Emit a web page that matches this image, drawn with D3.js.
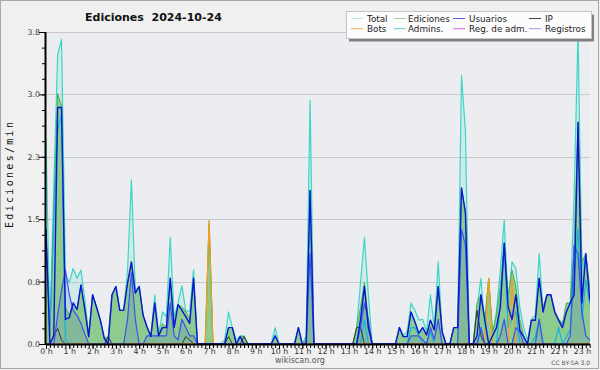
<!DOCTYPE html>
<html>
<head>
<meta charset="utf-8">
<script src="https://cdn.jsdelivr.net/npm/d3@7"></script>
<style>
body { margin: 0; background: #f0f0f0; }
text { font-family: "DejaVu Sans", sans-serif; }
</style>
</head>
<body>
<svg id="chart" width="600" height="370"></svg>
<script>
// edits per minute, one value every 10 minutes (6 per hour)
const total = [
  2.5, 0.17, 1.9, 3.52, 3.71, 0.85,
  0.75, 0.92, 0.8, 0.9, 0.55, 0.1,
  0.6, 0.45, 0.29, 0.07, 0.05, 0.6,
  0.7, 0.41, 0.41, 0.9, 2.0, 0.65,
  0.7, 0.35, 0.2, 0.1, 0.6, 0.11,
  0.39, 0.33, 1.3, 0.33, 0.5, 0.71,
  0.4, 0.4, 0.9, 0, 0, 0,
  1.5, 0, 0, 0, 0.05, 0.39,
  0.2, 0.05, 0.1, 0.1, 0, 0,
  0, 0, 0, 0, 0, 0.2,
  0, 0, 0, 0, 0, 0.2,
  0, 0.1, 2.97, 0, 0, 0,
  0, 0, 0, 0, 0, 0,
  0, 0, 0.2, 0.75, 1.3, 0.6,
  0, 0, 0, 0, 0, 0,
  0, 0.2, 0.1, 0.15, 0.5, 0.41,
  0.29, 0.3, 0.15, 0.6, 0.2, 1.0,
  0.15, 0, 0, 0.2, 0.2, 3.27,
  2.6, 0, 0, 0.45, 0.8, 0.2,
  0.8, 0.1, 0.4, 0.9, 1.51, 0.5,
  1.0, 0.92, 0.45, 0.2, 0.05, 0.3,
  0.35, 1.1, 0.4, 0.6, 0.6, 0.4,
  0.3, 0.25, 0.4, 0.5, 1.8, 3.8,
  0.9, 1.1, 0.55, 0.5, 0.4, 0.3
];
const ediciones = [
  1.4, 0.1, 1.6, 3.05, 2.9, 0.45,
  0.35, 0.5, 0.42, 0.72, 0.45, 0.1,
  0.6, 0.45, 0.29, 0.07, 0.09, 0.6,
  0.7, 0.41, 0.41, 0.74, 1.0, 0.62,
  0.7, 0.35, 0.21, 0.09, 0.5, 0.1,
  0.25, 0.2, 0.8, 0.25, 0.48, 0.45,
  0.4, 0.3, 0.8, 0, 0, 0,
  1.45, 0, 0, 0, 0, 0.2,
  0.2, 0, 0.09, 0.09, 0, 0,
  0, 0, 0, 0, 0, 0.1,
  0, 0, 0, 0, 0, 0.2,
  0, 0.05, 1.87, 0, 0, 0,
  0, 0, 0, 0, 0, 0,
  0, 0, 0.2, 0.45, 0.75, 0.3,
  0, 0, 0, 0, 0, 0,
  0, 0.2, 0.09, 0.09, 0.39, 0.27,
  0.13, 0.2, 0.11, 0.29, 0.17, 0.7,
  0.15, 0, 0, 0.2, 0.2, 1.9,
  1.6, 0, 0, 0.5, 0.6, 0.3,
  0.8, 0.15, 0.35, 0.7, 1.23, 0.6,
  0.9, 0.7, 0.3, 0.1, 0, 0.29,
  0.3, 0.8, 0.45, 0.6, 0.6, 0.4,
  0.3, 0.25, 0.5, 0.5, 1.2, 2.7,
  1.0, 1.1, 0.7, 0.5, 0.4, 0.3
];
const usuarios = [
  1.4, 0, 0.1, 2.88, 2.88, 0.3,
  0.32, 0.5, 0.42, 0.72, 0.42, 0.09,
  0.6, 0.45, 0.29, 0.07, 0, 0.6,
  0.7, 0.41, 0.41, 0.74, 1.0, 0.62,
  0.7, 0.35, 0.21, 0.09, 0.5, 0.1,
  0.2, 0.2, 0.8, 0.2, 0.48, 0.41,
  0.33, 0.25, 0.8, 0, 0, 0,
  0, 0, 0, 0, 0, 0.2,
  0.2, 0, 0.09, 0, 0, 0,
  0, 0, 0, 0, 0, 0.1,
  0, 0, 0, 0, 0, 0.2,
  0, 0, 1.87, 0, 0, 0,
  0, 0, 0, 0, 0, 0,
  0, 0, 0, 0.3, 0.7, 0.2,
  0, 0, 0, 0, 0, 0,
  0, 0.2, 0.09, 0.09, 0.39, 0.27,
  0.13, 0.2, 0.11, 0.29, 0.17, 0.7,
  0.15, 0, 0, 0.2, 0.2, 1.9,
  1.6, 0, 0, 0.1, 0.6, 0.29,
  0, 0.1, 0.2, 0.45, 1.23, 0.45,
  0.3, 0.6, 0.17, 0.09, 0, 0.29,
  0.29, 0.8, 0.39, 0.6, 0.6, 0.39,
  0.29, 0.2, 0.39, 0.5, 0.6, 2.7,
  0.5, 1.1, 0.55, 0.4, 0.3, 0.2
];
const registros = [
  0, 0, 0, 0.35, 0.65, 0.9,
  0.6, 0.41, 0.35, 0.25, 0.12, 0,
  0, 0, 0, 0, 0, 0,
  0, 0, 0, 0.3, 0.87, 0.3,
  0, 0, 0.1, 0.1, 0.1, 0.1,
  0.1, 0.1, 0.5, 0.1, 0.05, 0.3,
  0.2, 0.1, 0.1, 0, 0, 0,
  0, 0, 0, 0, 0, 0,
  0, 0, 0, 0, 0, 0,
  0, 0, 0, 0, 0, 0,
  0, 0, 0, 0, 0, 0,
  0, 0, 1.1, 0, 0, 0,
  0, 0, 0, 0, 0, 0,
  0, 0, 0, 0.2, 0.5, 0.3,
  0, 0, 0, 0, 0, 0,
  0, 0, 0, 0, 0.1, 0.1,
  0.1, 0.05, 0, 0.2, 0.05, 0.3,
  0, 0, 0, 0, 0, 1.4,
  1.2, 0, 0, 0, 0.2, 0,
  0, 0, 0, 0.1, 0.3, 0,
  0, 0.2, 0.15, 0, 0, 0,
  0, 0.3, 0, 0, 0, 0,
  0, 0, 0, 0.1, 1.2, 1.1,
  0.4, 0.1, 0.05, 0, 0, 0
];
const admins = [
  1.3, 0.2, 1.5, 2.6, 2.8, 0.05,
  0, 0, 0, 0, 0, 0,
  0, 0, 0, 0, 0, 0,
  0, 0, 0, 0, 0, 0,
  0, 0, 0, 0, 0, 0,
  0, 0, 0, 0, 0, 0,
  0, 0, 0, 0, 0, 0,
  0, 0, 0, 0, 0, 0,
  0, 0, 0, 0, 0, 0,
  0, 0, 0, 0, 0, 0,
  0, 0, 0, 0, 0, 0,
  0, 0, 0, 0, 0, 0,
  0, 0, 0, 0, 0, 0,
  0, 0, 0, 0, 0.3, 0,
  0, 0, 0, 0, 0, 0,
  0, 0, 0, 0, 0.2, 0.2,
  0.1, 0, 0, 0.15, 0, 0,
  0, 0, 0, 0, 0, 0,
  0, 0, 0, 0, 0.2, 0,
  0, 0, 0, 0.5, 1.2, 0.2,
  0.3, 0.4, 0, 0, 0, 0,
  0.09, 0.3, 0, 0, 0, 0,
  0.2, 0, 0.09, 0.17, 0.8, 1.4,
  0.3, 0.78, 0.5, 0.3, 0.2, 0.1
];
const ip = [
  0, 0, 0.1, 0.19, 0.05, 0,
  0, 0, 0, 0, 0, 0,
  0, 0, 0, 0, 0.09, 0,
  0, 0, 0, 0, 0, 0,
  0, 0, 0, 0, 0, 0,
  0, 0, 0, 0, 0, 0,
  0.09, 0.05, 0, 0, 0, 0,
  0, 0, 0, 0, 0, 0.09,
  0, 0, 0, 0.09, 0, 0,
  0, 0, 0, 0, 0, 0,
  0, 0, 0, 0, 0, 0,
  0, 0, 0, 0, 0, 0,
  0, 0, 0, 0, 0, 0,
  0, 0, 0.2, 0.2, 0, 0,
  0, 0, 0, 0, 0, 0,
  0, 0, 0, 0, 0, 0,
  0, 0, 0, 0, 0, 0,
  0, 0, 0, 0, 0, 0,
  0, 0, 0, 0.41, 0.1, 0,
  0, 0, 0, 0, 0, 0,
  0, 0, 0, 0, 0, 0,
  0, 0, 0, 0, 0, 0,
  0, 0, 0, 0, 0, 0,
  0, 0, 0, 0, 0, 0
];
const bots = [
  0, 0, 0, 0, 0, 0,  0, 0, 0, 0, 0, 0,  0, 0, 0, 0, 0, 0,  0, 0, 0, 0, 0, 0,
  0, 0, 0, 0, 0, 0,  0, 0, 0, 0, 0, 0,  0, 0, 0, 0, 0, 0,  1.5, 0, 0, 0, 0, 0,
  0, 0, 0, 0, 0, 0,  0, 0, 0, 0, 0, 0,  0, 0, 0, 0, 0, 0,  0, 0, 0, 0, 0, 0,
  0, 0, 0, 0, 0, 0,  0, 0, 0, 0, 0, 0,  0, 0, 0, 0, 0, 0,  0, 0, 0, 0, 0, 0,
  0, 0, 0, 0, 0, 0,  0, 0, 0, 0, 0, 0,  0, 0, 0, 0, 0, 0,  0.8, 0, 0, 0, 0, 0,
  0.8, 0, 0, 0, 0, 0,  0, 0, 0, 0, 0, 0,  0, 0, 0, 0, 0, 0,  0, 0, 0, 0, 0, 0
];
const regAdm = new Array(144).fill(0);

const hourLabels = d3.range(24);
const yTicks = [0, 0.76, 1.52, 2.28, 3.04, 3.8];

const legendItems = [
  ["Total", "#b4e8e6"], ["Ediciones", "#9ad49a"], ["Usuarios", "#5a5ae6"], ["IP", "#444444"],
  ["Bots", "#f6ac58"], ["Admins.", "#5ccede"], ["Reg. de adm.", "#d868e4"], ["Registros", "#9898f2"]
];

let svg = d3.select("#chart");
let pLeft = 46, pRight = 590, pTop = 32, pBottom = 344;

let x = d3.scaleLinear().domain([0, 24]).range([pLeft, pLeft + 24 * 23.3]);
let y = d3.scaleLinear().domain([0, 3.8]).range([pBottom, pTop]);
let times = d3.range(144).map(function (i) { return i / 6; });

svg.append("rect")
    .attr("x", 0.5).attr("y", 0.5).attr("width", 598).attr("height", 368)
    .style("fill", "#f0f0f0").style("stroke", "#a8a8a8");

svg.append("rect")
    .attr("x", pLeft).attr("y", pTop).attr("width", pRight - pLeft).attr("height", pBottom - pTop)
    .style("fill", "#ecedf0");

svg.append("clipPath").attr("id", "plot")
    .append("rect").attr("x", pLeft).attr("y", pTop - 2).attr("width", pRight - pLeft).attr("height", pBottom - pTop + 2);

// grid
svg.selectAll()
    .data(yTicks.slice(1))
    .enter()
    .append("line")
    .attr("x1", pLeft).attr("x2", pRight)
    .attr("y1", function (d) { return Math.round(y(d)) + 0.5; })
    .attr("y2", function (d) { return Math.round(y(d)) + 0.5; })
    .style("stroke", "#c9c9c9");

let g = svg.append("g").attr("clip-path", "url(#plot)");

function area(values) {
    return d3.area()
        .x(function (d, i) { return x(times[i]); })
        .y0(pBottom)
        .y1(function (d) { return y(d); })(values);
}
function line(values) {
    return d3.line()
        .x(function (d, i) { return x(times[i]); })
        .y(function (d) { return y(d); })(values);
}

g.append("path").attr("d", area(total)).style("fill", "#3fd8c8").style("fill-opacity", 0.15);
g.append("path").attr("d", area(ediciones)).style("fill", "#8ecb8f");
g.append("path").attr("d", area(registros)).style("fill", "#3848f0").style("fill-opacity", 0.13);

let lines = [
    [total, "#3dd6c6", 1.2],
    [ediciones, "#4fb04f", 1],
    [admins, "#12b4e2", 1.2],
    [regAdm, "#d050e0", 1],
    [ip, "#333333", 1],
    [bots, "#ff9a18", 1.2],
    [registros, "#3c50f2", 1.2],
    [usuarios, "#0a14d4", 1.4]
];
lines.forEach(function (s) {
    g.append("path").attr("d", line(s[0]))
        .style("fill", "none").style("stroke", s[1]).style("stroke-width", s[2])
        .style("stroke-linejoin", "round");
});

// y axis
let yMinor = svg.append("g").attr("transform", "translate(" + pLeft + ",0)")
    .call(d3.axisLeft(y).tickValues(d3.range(0, 21).map(function (k) { return k * 0.19; }))
    .tickSize(4).tickFormat(""));
yMinor.select(".domain").remove();
let yMajor = svg.append("g").attr("transform", "translate(" + pLeft + ",0)")
    .call(d3.axisLeft(y).tickValues(yTicks).tickSize(7).tickFormat(d3.format(".1f")));
yMajor.select(".domain").remove();
yMajor.selectAll("text").attr("x", -6).style("font-size", "7.8px").style("fill", "#333").style("font-family", "DejaVu Sans");
svg.selectAll(".tick line").style("stroke", "#000");

// x axis
let minor = d3.range(0, 144).map(function (i) { return i / 6; }).filter(function (h) { return x(h) <= pRight + 0.5; });
let xMinor = svg.append("g").attr("transform", "translate(0," + pBottom + ")")
    .call(d3.axisBottom(x).tickValues(minor).tickSize(4).tickFormat(""));
xMinor.select(".domain").remove();
xMinor.selectAll("line").style("stroke", "#000");
let xMajor = svg.append("g").attr("transform", "translate(0," + pBottom + ")")
    .call(d3.axisBottom(x).tickValues(hourLabels).tickSize(5).tickFormat(function (d) { return d + " h"; }));
xMajor.select(".domain").remove();
xMajor.selectAll("line").style("stroke", "#000");
xMajor.selectAll("text").attr("y", 4).attr("dy", "0.71em").style("font-size", "7.8px").style("fill", "#333").style("font-family", "DejaVu Sans");

svg.append("line").attr("x1", pLeft).attr("x2", pRight).attr("y1", pBottom + 0.5).attr("y2", pBottom + 0.5)
    .style("stroke", "#000").style("stroke-width", 2);
svg.append("line").attr("x1", pLeft - 0.5).attr("x2", pLeft - 0.5).attr("y1", pTop).attr("y2", pBottom + 1)
    .style("stroke", "#000").style("stroke-width", 2);

// title
svg.append("text").attr("x", 85).attr("y", 21)
    .style("font-weight", "bold").style("font-size", "11px").style("white-space", "pre").style("fill", "#111")
    .text("Ediciones  2024-10-24");

svg.append("text")
    .attr("transform", "translate(13,175) rotate(-90)")
    .attr("text-anchor", "middle")
    .attr("textLength", 106).attr("lengthAdjust", "spacing")
    .style("font-family", "DejaVu Sans Mono").style("font-size", "10px").style("fill", "#111")
    .text("Ediciones/min");

// legend
svg.append("rect").attr("x", 349).attr("y", 14.5).attr("width", 245).attr("height", 27).style("fill", "#808080");
svg.append("rect").attr("x", 346.5).attr("y", 11.5).attr("width", 245).attr("height", 27)
    .style("fill", "#fcfcfc").style("stroke", "#c4c4c4");
let colX = [351, 394, 453, 529];
let textX = [367, 408, 469, 545];
legendItems.forEach(function (d, k) {
    let row = Math.floor(k / 4), col = k % 4;
    let ly = 18.5 + row * 10.2;
    svg.append("line").attr("x1", colX[col]).attr("x2", colX[col] + 12)
        .attr("y1", ly).attr("y2", ly).style("stroke", d[1]).style("stroke-width", 1);
    svg.append("text").attr("x", textX[col]).attr("y", ly + 3.3)
        .style("font-size", "8.8px").style("fill", "#222").text(d[0]);
});

svg.append("text").attr("x", 300).attr("y", 363).attr("text-anchor", "middle")
    .style("font-size", "8px").style("fill", "#555").text("wikiscan.org");
svg.append("text").attr("x", 590).attr("y", 364.5).attr("text-anchor", "end")
    .style("font-size", "6px").style("fill", "#555").text("CC BY-SA 3.0");
</script>
</body>
</html>
